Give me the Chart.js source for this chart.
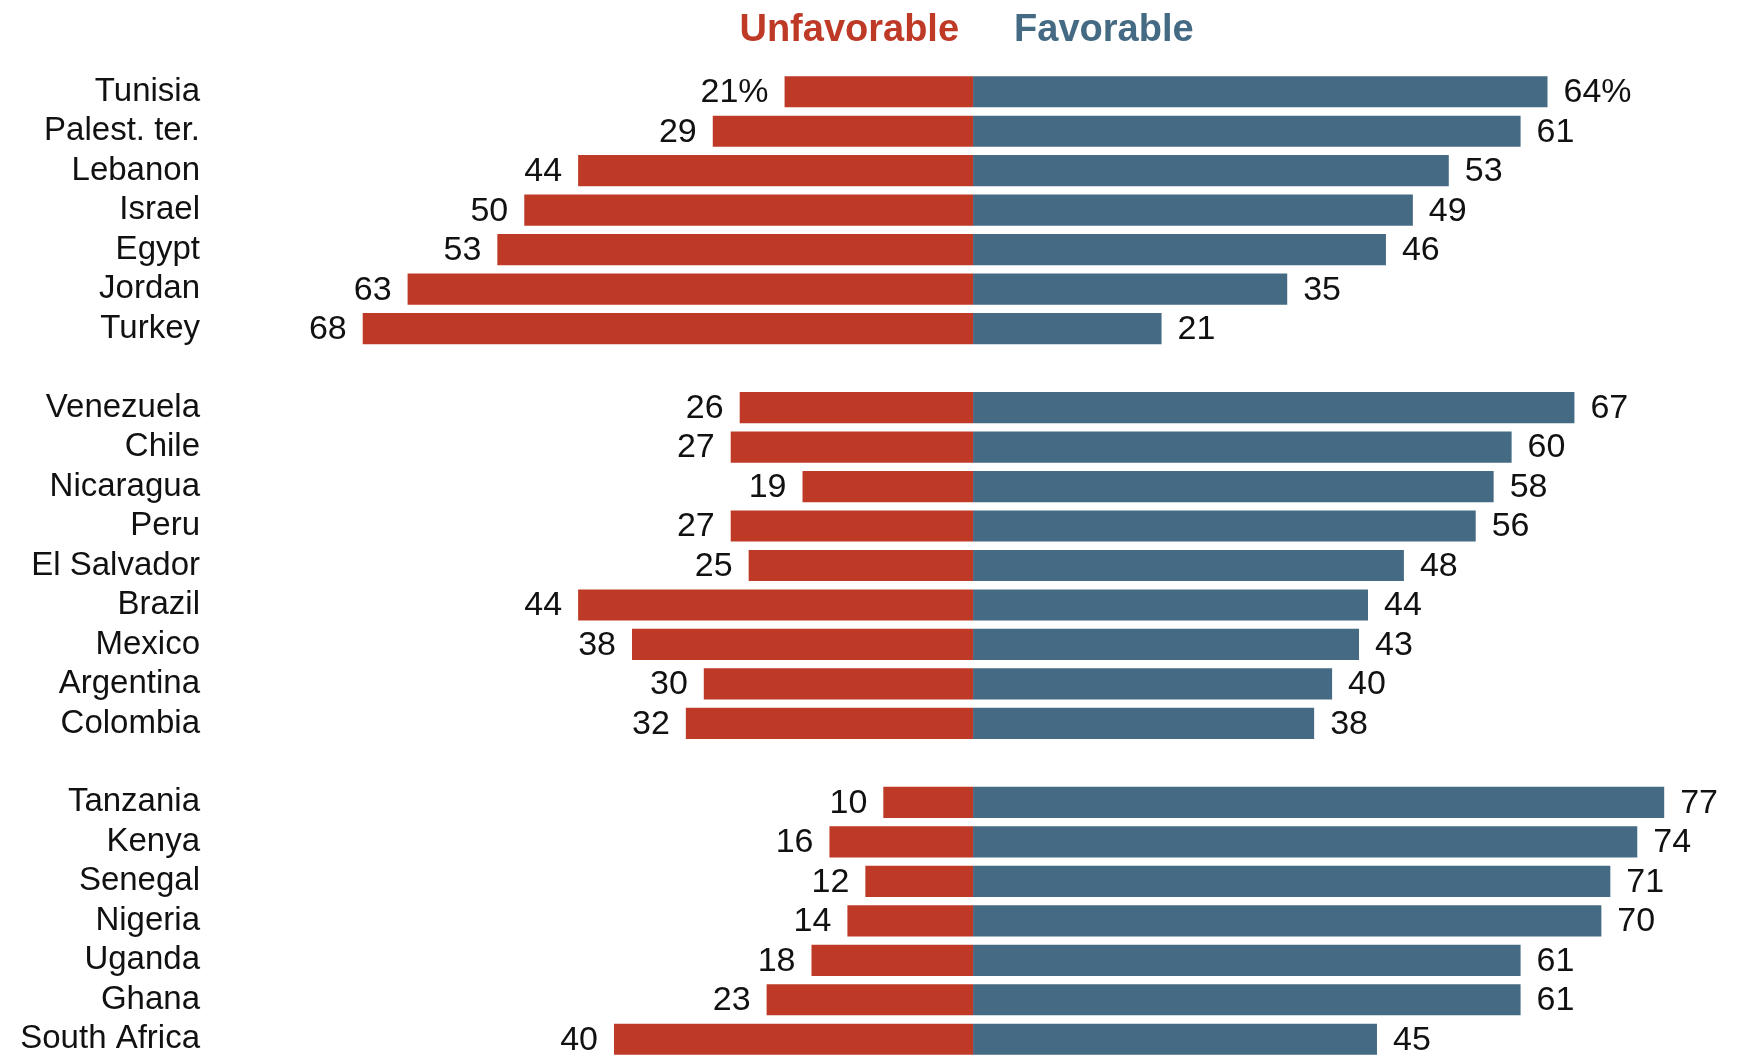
<!DOCTYPE html>
<html>
<head>
<meta charset="utf-8">
<script src="https://cdn.jsdelivr.net/npm/chart.js@4"></script>
<style>
  html, body { margin:0; padding:0; background:#fff; overflow:hidden; }
  #wrap { width:1740px; height:1056px; overflow:hidden; }
</style>
</head>
<body>
<div id="wrap"><canvas id="chart" width="1740" height="1059"></canvas></div>
<script>
// data - blank rows separate the three regions
const countries = ['Tunisia','Palest. ter.','Lebanon','Israel','Egypt','Jordan','Turkey','',
  'Venezuela','Chile','Nicaragua','Peru','El Salvador','Brazil','Mexico','Argentina','Colombia','',
  'Tanzania','Kenya','Senegal','Nigeria','Uganda','Ghana','South Africa'];
const unfavorable = [21,29,44,50,53,63,68,null, 26,27,19,27,25,44,38,30,32,null, 10,16,12,14,18,23,40];
const favorable   = [64,61,53,49,46,35,21,null, 67,60,58,56,48,44,43,40,38,null, 77,74,71,70,61,61,45];
const seriesNames = ['Unfavorable','Favorable'];

const RED = '#be3a27';
const BLUE = '#456a83';
const FONT = "'Liberation Sans', Arial, sans-serif";

// value labels next to each bar
const valueLabels = {
  id:'valueLabels',
  afterDatasetsDraw(chart){
    const ctx = chart.ctx;
    ctx.save();
    ctx.font = '34px ' + FONT;
    ctx.fillStyle = '#111';
    ctx.textBaseline = 'middle';
    chart.data.datasets.forEach((ds, di) => {
      const meta = chart.getDatasetMeta(di);
      meta.data.forEach((bar, i) => {
        const raw = ds.data[i];
        if(raw == null) return;
        let txt = String(Math.abs(raw));
        if(i === 0) txt += '%';
        if(raw < 0){ ctx.textAlign = 'right'; ctx.fillText(txt, bar.x - 16, bar.y + 1); }
        else { ctx.textAlign = 'left'; ctx.fillText(txt, bar.x + 16, bar.y + 1); }
      });
    });
    ctx.restore();
  }
};

// header above bars, placed around the zero line
const header = {
  id:'header',
  afterDraw(chart){
    const ctx = chart.ctx;
    const x0 = chart.scales.x.getPixelForValue(0);
    const y = chart.chartArea.top - 41;
    ctx.save();
    ctx.font = 'bold 38px ' + FONT;
    ctx.textBaseline = 'middle';
    ctx.fillStyle = RED;
    ctx.textAlign = 'right';
    ctx.fillText(seriesNames[0], x0 - 14, y);
    ctx.fillStyle = BLUE;
    ctx.textAlign = 'left';
    ctx.fillText(seriesNames[1], x0 + 41, y);
    ctx.restore();
  }
};

new Chart(document.getElementById('chart'), {
  type:'bar',
  data:{
    labels: countries,
    datasets:[
      { label: seriesNames[0], data: unfavorable.map(v => v == null ? null : -v), backgroundColor: RED,
        barPercentage: 0.79, categoryPercentage: 1 },
      { label: seriesNames[1], data: favorable, backgroundColor: BLUE,
        barPercentage: 0.79, categoryPercentage: 1 }
    ]
  },
  options:{
    indexAxis:'y',
    responsive:false,
    animation:false,
    layout:{ padding:{ top:72, right:4, bottom:0, left:0 } },
    plugins:{ legend:{ display:false }, tooltip:{ enabled:false } },
    scales:{
      x:{ stacked:true, min:-80, max:85, display:false },
      y:{
        stacked:true,
        grid:{ display:false, drawTicks:false },
        border:{ display:false },
        ticks:{ font:{ size:33, family:FONT }, color:'#111', padding:55, autoSkip:false },
        afterFit(scale){
          scale.width = 255;
          // labels sit inside their rows, no extra room needed
          scale.paddingTop = 0;
          scale.paddingBottom = 0;
        }
      }
    }
  },
  plugins:[valueLabels, header]
});
</script>
</body>
</html>
